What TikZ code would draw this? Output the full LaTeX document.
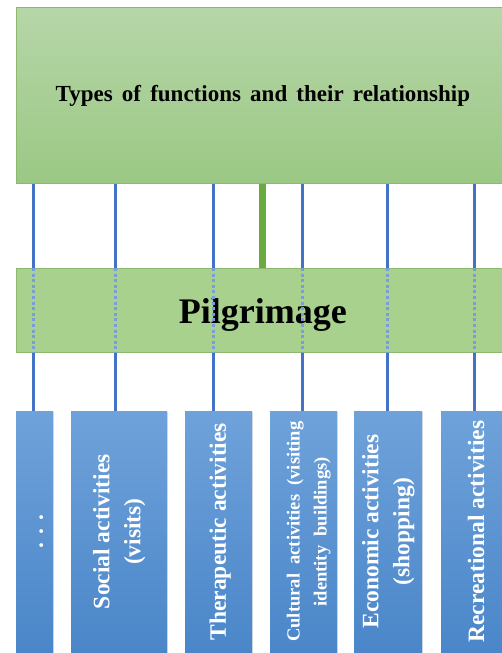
\documentclass[tikz,border=0pt]{standalone}
\usepackage{fontspec}
\setmainfont{Liberation Serif}
\usetikzlibrary{shadows}
\definecolor{gtop}{HTML}{B6D6A8}
\definecolor{gbot}{HTML}{9BC884}
\definecolor{gedge}{HTML}{8DB96F}
\definecolor{pedge}{HTML}{A9D18E}
\definecolor{pmid}{HTML}{B3D8A0}
\definecolor{btop}{HTML}{6FA2DA}
\definecolor{bbot}{HTML}{4A86C9}
\definecolor{lineblue}{HTML}{4472C4}
\definecolor{dotblue}{HTML}{7C9DD8}
\definecolor{lgreen}{HTML}{6AAA3E}
\begin{document}
\begin{tikzpicture}[x=1pt,y=-1pt,
  greenbox/.style={draw=gedge, line width=0.8pt, top color=gtop, bottom color=gbot,
    inner sep=0pt, anchor=north west, text=black},
  pilbox/.style={draw=gedge, line width=0.8pt, top color=pedge, middle color=pmid, bottom color=pedge,
    inner sep=0pt, anchor=north west, text=black},
  bluebox/.style={draw=none, top color=btop, bottom color=bbot, inner sep=0pt, anchor=north west,
    minimum height=241pt, drop shadow={opacity=0.25, shadow xshift=1.2pt, shadow yshift=-1.2pt}},
  vtext/.style={rotate=90, text=white, align=center, inner sep=0pt,
    font=\fontsize{23.5}{31}\selectfont\bfseries},
  bline/.style={draw=lineblue, line width=3pt},
  dline/.style={draw=dotblue, line width=3pt, dash pattern=on 3pt off 2.6pt},
  gline/.style={draw=lgreen, line width=7pt}]
\useasboundingbox (0,0) rectangle (502,653);

\node[greenbox, minimum width=493pt, minimum height=176pt,
  font=\fontsize{23}{28}\selectfont\bfseries] (top) at (16,7)
  {\spaceskip=0.4em Types of functions and their relationship};
\node[pilbox, minimum width=493pt, minimum height=84pt,
  label={[font=\fontsize{36}{40}\selectfont\bfseries, text=black, yshift=-5pt]center:Pilgrimage}]
  (pil) at (16,268) {};

\node[bluebox, minimum width=37pt] (b1) at (16,411) {};
\node[bluebox, minimum width=96pt] (b2) at (71,411) {};
\node[bluebox, minimum width=67pt] (b3) at (185,411) {};
\node[bluebox, minimum width=67pt] (b4) at (270,411) {};
\node[bluebox, minimum width=68pt] (b5) at (354,411) {};
\node[bluebox, minimum width=68pt] (b6) at (441,411) {};

\node[vtext] (t1) at ([xshift=2pt]b1.center) {\strut. . .};
\node[vtext] (t2) at (b2.center) {Social activities\\(visits)};
\node[vtext] (t3) at ([xshift=1.5pt]b3.center) {Therapeutic activities};
\node[vtext, font=\fontsize{18.5}{27}\selectfont\bfseries] (t4) at ([xshift=5pt]b4.center)
  {Cultural \ activities \ (visiting\\identity \ buildings)};
\node[vtext] (t5) at (b5.center) {Economic activities\\(shopping)};
\node[vtext] (t6) at ([xshift=1pt]b6.center) {Recreational activities};

\coordinate (c1) at (33,0);
\coordinate (c2) at (115,0);
\coordinate (c3) at (213,0);
\coordinate (c4) at (302,0);
\coordinate (c5) at (387,0);
\coordinate (c6) at (474,0);
\coordinate (cg) at (262,0);

\foreach \i in {1,...,6}{
  \draw[bline] (top.south -| c\i) -- (pil.north -| c\i);
  \draw[dline] (pil.north -| c\i) -- (pil.south -| c\i);
  \draw[bline] (pil.south -| c\i) -- (b\i.north -| c\i);
}
\draw[gline] (top.south -| cg) -- (pil.north -| cg);
\end{tikzpicture}
\end{document}
